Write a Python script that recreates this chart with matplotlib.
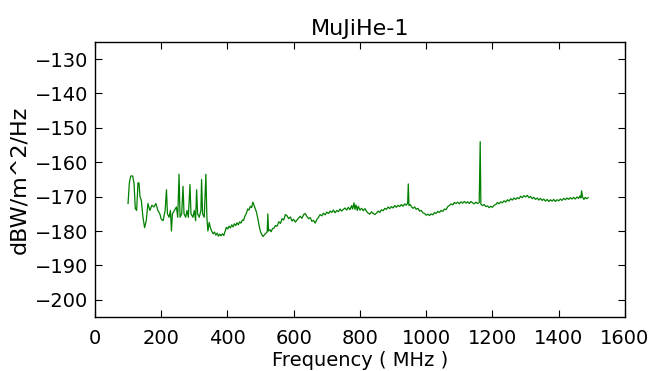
import matplotlib
matplotlib.use("Agg")
import matplotlib.pyplot as plt

title = "MuJiHe-1"
xlabel = "Frequency ( MHz )"
ylabel = "dBW/m^2/Hz"
xticks = [0, 200, 400, 600, 800, 1000, 1200, 1400, 1600]
yticks = [-130, -140, -150, -160, -170, -180, -190, -200]

freq_low = [100, 104, 108, 114, 118, 122, 126, 130, 133, 136, 140, 145, 150, 155, 160, 166, 172, 178, 184, 190,
            196, 200, 206, 212, 216, 219, 224, 228, 231, 234, 240, 246, 250, 254, 257, 262, 266, 269, 274, 278,
            282, 287, 290, 296, 300, 304, 307, 310, 315, 320, 322, 325, 330, 335, 338]
power_low = [-172, -166, -164, -164, -166, -173.5, -174, -166, -166, -170, -171, -176, -179, -177, -172, -174, -172.5, -173, -172, -174,
             -175, -176.5, -177, -174, -168, -175, -176, -174, -180, -175, -174, -173, -176, -163.5, -176, -175, -167, -175, -176, -174,
             -176, -166.5, -175, -176, -174, -177, -168, -175, -176, -174, -165, -175, -176, -163.5, -176]

freq_mid = [341, 345, 349, 353, 357, 361, 365, 369, 373, 377, 381, 385, 389, 393, 397, 401, 405, 409, 413, 417,
            421, 425, 429, 433, 437, 441, 445, 449, 453, 457, 461, 465, 469, 473, 477, 480, 484, 488, 492, 496,
            500, 504, 508, 512, 516, 520, 522, 524, 528, 532, 536]
power_mid = [-180, -177.5, -179.2, -180.1, -180.8, -180.3, -181.2, -180.6, -181.5, -180.9, -181.4, -180.8, -181.3, -180.1, -178.9, -179.4, -178.6, -179.1, -178.2, -178.8,
             -177.9, -178.4, -177.6, -178.2, -177.3, -177.7, -176.8, -176.9, -175.6, -174.9, -173.6, -173.9, -172.8, -173.2, -171.6, -172.4, -173.5, -174.6, -176.5, -178.6,
             -180.2, -181.1, -181.6, -181.0, -180.7, -180.2, -175.0, -180.0, -179.6, -180.2, -179.3]

freq_high = [540, 545, 550, 555, 560, 565, 570, 575, 580, 585, 590, 595, 600, 605, 610, 615, 620, 625, 630, 635,
             640, 645, 650, 655, 660, 665, 670, 675, 680, 685, 690, 695, 700, 705, 710, 715, 720, 725, 730, 735,
             740, 745, 750, 755, 760, 765, 770, 775, 778, 782, 785, 788, 792, 795, 800, 805, 810, 815, 820, 825,
             830, 835, 840, 845, 850, 855, 860, 865, 870, 875, 880, 885, 890, 895, 900, 905, 910, 915, 920, 925,
             930, 935, 940, 944, 946, 948, 952, 956, 960, 965, 970, 975, 980, 985, 990, 995, 1000, 1005, 1010, 1015,
             1020, 1025, 1030, 1035, 1040, 1045, 1050, 1055, 1060, 1065, 1070, 1075, 1080, 1085, 1090, 1095, 1100, 1105, 1110, 1115,
             1120, 1125, 1130, 1135, 1140, 1145, 1150, 1155, 1160, 1163, 1165, 1170, 1175, 1180, 1185, 1190, 1195, 1200, 1205, 1210,
             1215, 1220, 1225, 1230, 1235, 1240, 1245, 1250, 1255, 1260, 1265, 1270, 1275, 1280, 1285, 1290, 1295, 1300, 1305, 1310,
             1315, 1320, 1325, 1330, 1335, 1340, 1345, 1350, 1355, 1360, 1365, 1370, 1375, 1380, 1385, 1390, 1395, 1400, 1405, 1410,
             1415, 1420, 1425, 1430, 1435, 1440, 1445, 1450, 1455, 1460, 1464, 1467, 1469, 1472, 1476, 1480, 1484, 1489]
power_high = [-179.2, -178.4, -178.6, -177.3, -177.8, -176.4, -176.8, -175.2, -175.6, -176.4, -175.9, -177.1, -176.6, -177.4, -176.8, -176.2, -175.7, -176.3, -175.2, -174.9,
              -175.8, -176.4, -176.1, -177.2, -176.9, -177.7, -176.6, -176.0, -175.2, -175.6, -174.8, -175.3, -174.5, -174.9, -174.2, -174.6, -173.9, -174.7, -174.0, -174.4,
              -173.6, -174.2, -173.7, -173.3, -173.9, -173.1, -173.8, -172.6, -173.6, -171.8, -173.7, -172.4, -174.0, -172.8, -173.9, -173.4, -174.1, -173.5, -174.3, -174.8,
              -175.1, -174.4, -174.9, -175.2, -174.8, -174.2, -174.6, -173.8, -174.1, -173.4, -173.7, -173.0, -173.5, -172.9, -173.3, -172.6, -173.1, -172.5, -172.9, -172.3,
              -172.8, -172.1, -172.5, -171.9, -166.3, -172.6, -172.3, -173.0, -173.4, -173.0, -173.7, -173.4, -174.2, -174.0, -174.7, -174.9, -175.4, -175.1, -175.5, -175.0,
              -175.3, -174.6, -174.9, -174.3, -174.6, -174.0, -174.3, -173.6, -173.8, -172.9, -172.6, -172.1, -172.4, -171.7, -172.0, -171.6, -172.1, -171.5, -171.9, -171.4,
              -171.9, -171.5, -172.0, -171.4, -171.8, -172.1, -171.6, -172.0, -171.7, -154.0, -172.2, -172.6, -172.3, -172.9, -172.7, -173.2, -172.8, -173.1, -172.5, -172.3,
              -171.7, -172.1, -171.5, -171.8, -171.2, -171.6, -170.9, -171.3, -170.6, -171.0, -170.4, -170.8, -170.3, -170.6, -169.9, -170.3, -169.7, -170.1, -169.6, -170.3,
              -169.9, -170.6, -170.2, -170.8, -170.4, -171.0, -170.5, -171.1, -170.7, -171.3, -170.8, -171.4, -170.9, -171.3, -170.8, -171.4, -170.9, -171.2, -170.7, -171.1,
              -170.5, -170.9, -170.4, -170.8, -170.3, -170.7, -170.2, -170.7, -170.1, -170.5, -169.8, -170.4, -168.3, -170.1, -170.8, -170.2, -170.6, -170.3]

freq = freq_low + freq_mid + freq_high
power = power_low + power_mid + power_high

plt.rcParams['font.family'] = ['DejaVu Sans']
fig = plt.figure(figsize=(6.5, 3.71), dpi=100)
ax = fig.add_axes([0.146, 0.1456, 0.8155, 0.7414])
ax.plot(freq, power, color=(0, 0.5, 0), linewidth=0.9)
ax.set_xlim(0, 1600)
ax.set_ylim(-205, -125)
ax.set_xticks(xticks)
ax.set_yticks(yticks)
ax.tick_params(direction='in', top=True, right=True, length=5, labelsize=14)
ax.tick_params(axis='x', pad=9)
ax.tick_params(axis='y', pad=5)
ax.set_title(title, fontsize=16, pad=5)
ax.set_xlabel(xlabel, fontsize=14, labelpad=2)
ax.set_ylabel(ylabel, fontsize=16, labelpad=4)
for s in ax.spines.values():
    s.set_linewidth(1.0)
fig.savefig("out.png", dpi=100)
